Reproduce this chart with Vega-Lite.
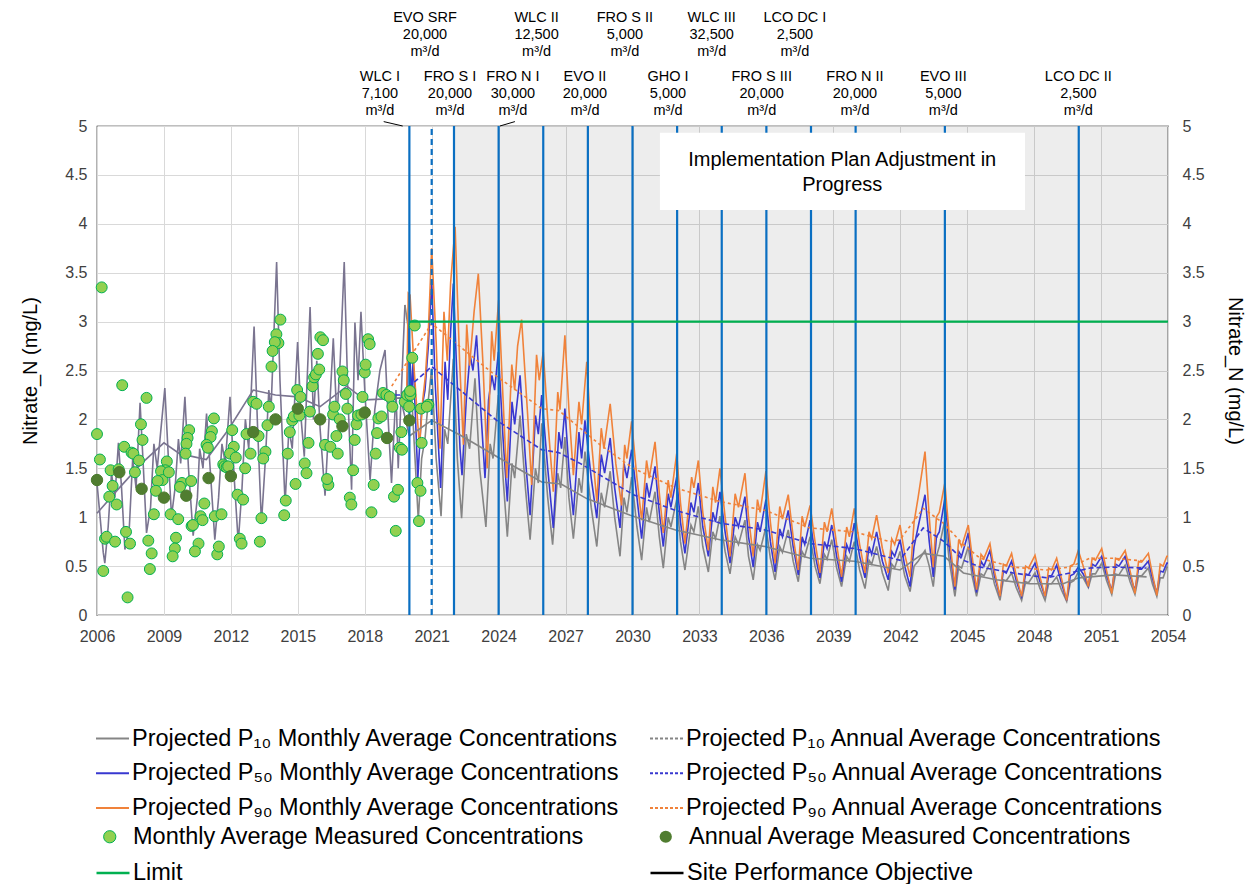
{
"$schema": "https://vega.github.io/schema/vega-lite/v6.json",
"width": 1071, "height": 489,
"autosize": {"type": "none"},
"padding": {"left": 97, "top": 126, "right": 89, "bottom": 269},
"background": "white",
"config": {"font": "Liberation Sans", "view": {"stroke": "#000000", "strokeWidth": 1.2},
  "legend": {"orient": "none", "title": null, "labelFontSize": 23.5, "labelColor": "#000000", "labelLimit": 0, "direction": "vertical", "rowPadding": 5.75}},
"data": {"values": [{}]},
"datasets": {
"hist": [{"t":2006.0,"v":1.35},{"t":2006.1,"v":1.1},{"t":2006.28,"v":0.64},{"t":2006.35,"v":0.53},{"t":2006.5,"v":0.9},{"t":2006.65,"v":1.45},{"t":2006.8,"v":1.2},{"t":2006.96,"v":1.76},{"t":2007.1,"v":1.3},{"t":2007.25,"v":0.67},{"t":2007.45,"v":0.9},{"t":2007.6,"v":1.6},{"t":2007.75,"v":1.3},{"t":2007.93,"v":2.17},{"t":2008.08,"v":1.5},{"t":2008.22,"v":0.84},{"t":2008.4,"v":1.1},{"t":2008.55,"v":1.75},{"t":2008.7,"v":1.5},{"t":2009.04,"v":2.32},{"t":2009.2,"v":1.6},{"t":2009.34,"v":1.01},{"t":2009.5,"v":1.3},{"t":2009.65,"v":1.8},{"t":2009.75,"v":1.55},{"t":2009.94,"v":2.23},{"t":2010.1,"v":1.5},{"t":2010.31,"v":0.81},{"t":2010.5,"v":1.2},{"t":2010.6,"v":1.7},{"t":2010.75,"v":1.5},{"t":2010.91,"v":2.06},{"t":2011.1,"v":1.4},{"t":2011.28,"v":0.77},{"t":2011.45,"v":1.2},{"t":2011.6,"v":1.75},{"t":2011.75,"v":1.55},{"t":2011.96,"v":2.23},{"t":2012.15,"v":1.4},{"t":2012.33,"v":0.74},{"t":2012.5,"v":1.3},{"t":2012.65,"v":2.0},{"t":2012.8,"v":1.7},{"t":2013.04,"v":2.95},{"t":2013.2,"v":1.9},{"t":2013.37,"v":0.94},{"t":2013.55,"v":1.6},{"t":2013.7,"v":2.3},{"t":2013.8,"v":2.1},{"t":2014.05,"v":3.61},{"t":2014.2,"v":2.4},{"t":2014.43,"v":1.14},{"t":2014.6,"v":1.9},{"t":2014.75,"v":1.7},{"t":2014.99,"v":2.79},{"t":2015.15,"v":2.0},{"t":2015.29,"v":1.62},{"t":2015.4,"v":2.3},{"t":2015.55,"v":3.15},{"t":2015.7,"v":2.0},{"t":2015.85,"v":2.6},{"t":2016.0,"v":1.9},{"t":2016.22,"v":1.22},{"t":2016.4,"v":2.0},{"t":2016.59,"v":2.83},{"t":2016.75,"v":2.0},{"t":2016.9,"v":2.6},{"t":2017.08,"v":3.61},{"t":2017.25,"v":2.2},{"t":2017.41,"v":1.28},{"t":2017.56,"v":2.99},{"t":2017.7,"v":2.4},{"t":2017.83,"v":3.1},{"t":2018.0,"v":2.3},{"t":2018.24,"v":1.38},{"t":2018.45,"v":2.1},{"t":2018.68,"v":2.5},{"t":2018.91,"v":2.71},{"t":2019.05,"v":2.0},{"t":2019.2,"v":1.35},{"t":2019.4,"v":2.3},{"t":2019.5,"v":1.5},{"t":2019.8,"v":3.17}],
"histann": [{"t":2006.0,"v":1.04},{"t":2007.0,"v":1.3},{"t":2008.0,"v":1.55},{"t":2009.0,"v":1.76},{"t":2009.7,"v":1.65},{"t":2010.9,"v":1.59},{"t":2011.9,"v":1.9},{"t":2013.0,"v":2.3},{"t":2014.0,"v":2.25},{"t":2015.0,"v":2.23},{"t":2016.0,"v":2.13},{"t":2017.2,"v":2.34},{"t":2018.0,"v":2.2},{"t":2019.0,"v":2.21},{"t":2019.6,"v":2.22},{"t":2020.0,"v":1.83}],
"p10m": [{"t":2019.8,"v":3.17},{"t":2019.97,"v":2.9},{"t":2020.15,"v":2.04},{"t":2020.4,"v":0.97},{"t":2020.55,"v":1.6},{"t":2020.7,"v":1.8},{"t":2020.85,"v":2.2},{"t":2021.0,"v":2.52},{"t":2021.2,"v":1.6},{"t":2021.42,"v":1.01},{"t":2021.58,"v":1.9},{"t":2021.72,"v":1.75},{"t":2021.97,"v":2.62},{"t":2022.15,"v":1.6},{"t":2022.34,"v":0.99},{"t":2022.55,"v":1.85},{"t":2022.7,"v":1.7},{"t":2022.94,"v":2.42},{"t":2023.15,"v":1.5},{"t":2023.43,"v":0.9},{"t":2023.62,"v":1.75},{"t":2023.75,"v":1.6},{"t":2023.99,"v":2.25},{"t":2024.2,"v":1.4},{"t":2024.39,"v":0.8},{"t":2024.6,"v":1.55},{"t":2024.72,"v":1.4},{"t":2024.96,"v":2.04},{"t":2025.2,"v":1.3},{"t":2025.41,"v":0.77},{"t":2025.65,"v":1.5},{"t":2025.78,"v":1.35},{"t":2025.93,"v":1.96},{"t":2026.2,"v":1.2},{"t":2026.42,"v":0.72},{"t":2026.65,"v":1.45},{"t":2026.78,"v":1.3},{"t":2026.97,"v":1.82},{"t":2027.15,"v":1.2},{"t":2027.35,"v":0.78},{"t":2027.6,"v":1.4},{"t":2027.72,"v":1.25},{"t":2027.87,"v":1.67},{"t":2028.15,"v":1.1},{"t":2028.4,"v":0.7},{"t":2028.6,"v":1.25},{"t":2028.75,"v":1.1},{"t":2029.0,"v":1.47},{"t":2029.2,"v":1.0},{"t":2029.44,"v":0.6},{"t":2029.62,"v":1.2},{"t":2029.75,"v":1.05},{"t":2029.96,"v":1.41},{"t":2030.2,"v":0.9},{"t":2030.41,"v":0.56},{"t":2030.63,"v":1.1},{"t":2030.75,"v":0.95},{"t":2031.01,"v":1.26},{"t":2031.2,"v":0.8},{"t":2031.38,"v":0.48},{"t":2031.6,"v":1.0},{"t":2031.72,"v":0.9},{"t":2031.98,"v":1.18},{"t":2032.15,"v":0.75},{"t":2032.35,"v":0.46},{"t":2032.62,"v":0.92},{"t":2032.75,"v":0.85},{"t":2032.95,"v":1.11},{"t":2033.15,"v":0.7},{"t":2033.4,"v":0.44},{"t":2033.6,"v":0.85},{"t":2033.72,"v":0.78},{"t":2033.92,"v":1.01},{"t":2034.15,"v":0.65},{"t":2034.37,"v":0.42},{"t":2034.6,"v":0.8},{"t":2034.75,"v":0.72},{"t":2035.04,"v":0.97},{"t":2035.2,"v":0.6},{"t":2035.41,"v":0.36},{"t":2035.6,"v":0.72},{"t":2035.72,"v":0.66},{"t":2035.98,"v":0.9},{"t":2036.18,"v":0.58},{"t":2036.39,"v":0.36},{"t":2036.6,"v":0.7},{"t":2036.72,"v":0.64},{"t":2036.98,"v":0.87},{"t":2037.2,"v":0.55},{"t":2037.43,"v":0.34},{"t":2037.6,"v":0.65},{"t":2037.72,"v":0.6},{"t":2037.96,"v":0.8},{"t":2038.18,"v":0.5},{"t":2038.4,"v":0.32},{"t":2038.6,"v":0.62},{"t":2038.72,"v":0.57},{"t":2038.93,"v":0.77},{"t":2039.15,"v":0.48},{"t":2039.37,"v":0.29},{"t":2039.6,"v":0.6},{"t":2039.72,"v":0.55},{"t":2039.94,"v":0.75},{"t":2040.18,"v":0.46},{"t":2040.42,"v":0.27},{"t":2040.6,"v":0.56},{"t":2040.72,"v":0.52},{"t":2040.94,"v":0.7},{"t":2041.2,"v":0.43},{"t":2041.46,"v":0.25},{"t":2041.62,"v":0.52},{"t":2041.75,"v":0.48},{"t":2041.99,"v":0.65},{"t":2042.2,"v":0.4},{"t":2042.44,"v":0.24},{"t":2042.62,"v":0.5},{"t":2042.8,"v":0.55},{"t":2043.11,"v":0.66},{"t":2043.3,"v":0.5},{"t":2043.48,"v":0.29},{"t":2043.62,"v":0.6},{"t":2043.75,"v":0.7},{"t":2044.0,"v":0.97},{"t":2044.2,"v":0.55},{"t":2044.45,"v":0.19},{"t":2044.62,"v":0.5},{"t":2044.75,"v":0.48},{"t":2045.05,"v":0.7},{"t":2045.22,"v":0.4},{"t":2045.42,"v":0.19},{"t":2045.62,"v":0.42},{"t":2045.75,"v":0.4},{"t":2046.02,"v":0.53},{"t":2046.22,"v":0.32},{"t":2046.47,"v":0.15},{"t":2046.62,"v":0.36},{"t":2046.75,"v":0.35},{"t":2046.99,"v":0.43},{"t":2047.2,"v":0.28},{"t":2047.44,"v":0.15},{"t":2047.62,"v":0.34},{"t":2047.75,"v":0.33},{"t":2048.04,"v":0.43},{"t":2048.25,"v":0.28},{"t":2048.49,"v":0.15},{"t":2048.65,"v":0.32},{"t":2048.78,"v":0.32},{"t":2049.01,"v":0.39},{"t":2049.22,"v":0.26},{"t":2049.46,"v":0.14},{"t":2049.62,"v":0.33},{"t":2049.78,"v":0.35},{"t":2049.98,"v":0.44},{"t":2050.2,"v":0.38},{"t":2050.43,"v":0.28},{"t":2050.6,"v":0.42},{"t":2050.75,"v":0.42},{"t":2051.03,"v":0.53},{"t":2051.25,"v":0.35},{"t":2051.48,"v":0.21},{"t":2051.65,"v":0.42},{"t":2051.8,"v":0.41},{"t":2052.08,"v":0.51},{"t":2052.3,"v":0.34},{"t":2052.52,"v":0.21},{"t":2052.68,"v":0.4},{"t":2052.82,"v":0.4},{"t":2053.12,"v":0.48},{"t":2053.3,"v":0.32},{"t":2053.5,"v":0.19},{"t":2053.65,"v":0.38},{"t":2053.78,"v":0.38},{"t":2053.95,"v":0.49},{"t":2054.0,"v":0.49}],
"p50m": [{"t":2019.9,"v":2.3},{"t":2019.97,"v":2.93},{"t":2020.1,"v":2.2},{"t":2020.17,"v":2.62},{"t":2020.38,"v":1.4},{"t":2020.55,"v":2.1},{"t":2020.7,"v":2.3},{"t":2020.85,"v":2.75},{"t":2021.0,"v":3.43},{"t":2021.15,"v":2.4},{"t":2021.4,"v":1.3},{"t":2021.6,"v":2.59},{"t":2021.72,"v":2.2},{"t":2021.85,"v":2.9},{"t":2021.97,"v":3.39},{"t":2022.12,"v":2.5},{"t":2022.27,"v":1.7},{"t":2022.36,"v":1.43},{"t":2022.55,"v":2.2},{"t":2022.72,"v":2.66},{"t":2022.85,"v":2.5},{"t":2023.01,"v":2.86},{"t":2023.2,"v":2.1},{"t":2023.39,"v":1.4},{"t":2023.55,"v":2.2},{"t":2023.7,"v":2.45},{"t":2023.82,"v":2.3},{"t":2023.99,"v":2.69},{"t":2024.2,"v":1.8},{"t":2024.39,"v":1.16},{"t":2024.6,"v":2.18},{"t":2024.72,"v":1.95},{"t":2024.96,"v":2.45},{"t":2025.2,"v":1.6},{"t":2025.41,"v":1.02},{"t":2025.65,"v":2.04},{"t":2025.78,"v":1.85},{"t":2025.93,"v":2.25},{"t":2026.2,"v":1.5},{"t":2026.45,"v":0.89},{"t":2026.7,"v":1.87},{"t":2026.82,"v":1.7},{"t":2026.97,"v":2.11},{"t":2027.15,"v":1.5},{"t":2027.35,"v":1.02},{"t":2027.6,"v":1.87},{"t":2027.72,"v":1.6},{"t":2027.87,"v":1.99},{"t":2028.15,"v":1.4},{"t":2028.4,"v":0.99},{"t":2028.6,"v":1.64},{"t":2028.75,"v":1.45},{"t":2029.0,"v":1.81},{"t":2029.2,"v":1.3},{"t":2029.44,"v":0.89},{"t":2029.62,"v":1.55},{"t":2029.75,"v":1.4},{"t":2029.96,"v":1.69},{"t":2030.2,"v":1.2},{"t":2030.41,"v":0.78},{"t":2030.63,"v":1.35},{"t":2030.75,"v":1.2},{"t":2031.01,"v":1.52},{"t":2031.2,"v":1.05},{"t":2031.38,"v":0.7},{"t":2031.6,"v":1.24},{"t":2031.72,"v":1.1},{"t":2031.98,"v":1.41},{"t":2032.15,"v":0.95},{"t":2032.35,"v":0.63},{"t":2032.62,"v":1.15},{"t":2032.75,"v":1.05},{"t":2032.95,"v":1.35},{"t":2033.15,"v":0.9},{"t":2033.4,"v":0.6},{"t":2033.6,"v":1.05},{"t":2033.72,"v":0.95},{"t":2033.92,"v":1.26},{"t":2034.15,"v":0.85},{"t":2034.37,"v":0.53},{"t":2034.6,"v":1.0},{"t":2034.75,"v":0.9},{"t":2035.04,"v":1.21},{"t":2035.2,"v":0.8},{"t":2035.41,"v":0.49},{"t":2035.6,"v":0.95},{"t":2035.72,"v":0.85},{"t":2035.98,"v":1.18},{"t":2036.18,"v":0.75},{"t":2036.39,"v":0.44},{"t":2036.6,"v":0.88},{"t":2036.72,"v":0.8},{"t":2036.98,"v":1.07},{"t":2037.2,"v":0.7},{"t":2037.43,"v":0.41},{"t":2037.6,"v":0.8},{"t":2037.72,"v":0.72},{"t":2037.96,"v":0.97},{"t":2038.18,"v":0.62},{"t":2038.4,"v":0.38},{"t":2038.6,"v":0.75},{"t":2038.72,"v":0.68},{"t":2038.93,"v":0.92},{"t":2039.15,"v":0.6},{"t":2039.37,"v":0.34},{"t":2039.6,"v":0.72},{"t":2039.72,"v":0.65},{"t":2039.94,"v":0.94},{"t":2040.18,"v":0.6},{"t":2040.42,"v":0.38},{"t":2040.6,"v":0.7},{"t":2040.72,"v":0.62},{"t":2040.94,"v":0.85},{"t":2041.2,"v":0.55},{"t":2041.46,"v":0.36},{"t":2041.62,"v":0.65},{"t":2041.75,"v":0.6},{"t":2041.99,"v":0.77},{"t":2042.2,"v":0.5},{"t":2042.44,"v":0.29},{"t":2042.62,"v":0.7},{"t":2042.8,"v":0.9},{"t":2043.11,"v":1.23},{"t":2043.3,"v":0.75},{"t":2043.48,"v":0.39},{"t":2043.62,"v":0.8},{"t":2043.75,"v":0.85},{"t":2044.0,"v":1.19},{"t":2044.2,"v":0.7},{"t":2044.45,"v":0.26},{"t":2044.62,"v":0.65},{"t":2044.75,"v":0.6},{"t":2045.05,"v":0.84},{"t":2045.22,"v":0.5},{"t":2045.42,"v":0.23},{"t":2045.62,"v":0.55},{"t":2045.75,"v":0.5},{"t":2046.02,"v":0.66},{"t":2046.22,"v":0.4},{"t":2046.47,"v":0.19},{"t":2046.62,"v":0.45},{"t":2046.75,"v":0.43},{"t":2046.99,"v":0.55},{"t":2047.2,"v":0.35},{"t":2047.44,"v":0.19},{"t":2047.62,"v":0.42},{"t":2047.75,"v":0.41},{"t":2048.04,"v":0.53},{"t":2048.25,"v":0.35},{"t":2048.49,"v":0.19},{"t":2048.65,"v":0.4},{"t":2048.78,"v":0.4},{"t":2049.01,"v":0.51},{"t":2049.22,"v":0.33},{"t":2049.46,"v":0.15},{"t":2049.62,"v":0.4},{"t":2049.78,"v":0.42},{"t":2049.98,"v":0.49},{"t":2050.2,"v":0.42},{"t":2050.43,"v":0.3},{"t":2050.6,"v":0.52},{"t":2050.75,"v":0.5},{"t":2051.03,"v":0.6},{"t":2051.25,"v":0.4},{"t":2051.48,"v":0.25},{"t":2051.65,"v":0.52},{"t":2051.8,"v":0.5},{"t":2052.08,"v":0.6},{"t":2052.3,"v":0.4},{"t":2052.52,"v":0.25},{"t":2052.68,"v":0.48},{"t":2052.82,"v":0.47},{"t":2053.12,"v":0.55},{"t":2053.3,"v":0.38},{"t":2053.5,"v":0.22},{"t":2053.65,"v":0.45},{"t":2053.78,"v":0.44},{"t":2053.95,"v":0.53},{"t":2054.0,"v":0.53}],
"p90m": [{"t":2019.88,"v":2.25},{"t":2019.95,"v":3.29},{"t":2020.03,"v":3.27},{"t":2020.2,"v":2.56},{"t":2020.45,"v":1.71},{"t":2020.6,"v":2.2},{"t":2020.72,"v":2.45},{"t":2020.85,"v":2.9},{"t":2021.0,"v":3.75},{"t":2021.2,"v":2.79},{"t":2021.37,"v":1.7},{"t":2021.55,"v":3.1},{"t":2021.7,"v":2.6},{"t":2021.85,"v":3.4},{"t":2022.05,"v":3.97},{"t":2022.25,"v":2.6},{"t":2022.42,"v":1.74},{"t":2022.57,"v":2.97},{"t":2022.7,"v":2.55},{"t":2022.9,"v":3.1},{"t":2023.09,"v":3.49},{"t":2023.3,"v":2.56},{"t":2023.49,"v":1.5},{"t":2023.69,"v":2.9},{"t":2023.8,"v":2.6},{"t":2024.0,"v":3.22},{"t":2024.18,"v":2.3},{"t":2024.36,"v":1.4},{"t":2024.59,"v":2.56},{"t":2024.72,"v":2.3},{"t":2024.85,"v":2.75},{"t":2025.03,"v":3.02},{"t":2025.3,"v":2.05},{"t":2025.48,"v":1.33},{"t":2025.7,"v":2.66},{"t":2025.82,"v":2.4},{"t":2026.0,"v":2.69},{"t":2026.2,"v":2.0},{"t":2026.45,"v":1.26},{"t":2026.65,"v":2.28},{"t":2026.75,"v":2.1},{"t":2026.97,"v":2.86},{"t":2027.15,"v":2.1},{"t":2027.35,"v":1.43},{"t":2027.6,"v":2.18},{"t":2027.72,"v":1.95},{"t":2027.95,"v":2.59},{"t":2028.15,"v":1.8},{"t":2028.4,"v":1.16},{"t":2028.6,"v":1.91},{"t":2028.72,"v":1.7},{"t":2029.0,"v":2.16},{"t":2029.25,"v":1.55},{"t":2029.51,"v":1.12},{"t":2029.65,"v":1.74},{"t":2029.75,"v":1.6},{"t":2029.96,"v":1.98},{"t":2030.2,"v":1.4},{"t":2030.41,"v":0.97},{"t":2030.63,"v":1.58},{"t":2030.75,"v":1.4},{"t":2031.01,"v":1.77},{"t":2031.2,"v":1.25},{"t":2031.38,"v":0.84},{"t":2031.6,"v":1.38},{"t":2031.72,"v":1.2},{"t":2031.98,"v":1.65},{"t":2032.15,"v":1.15},{"t":2032.35,"v":0.73},{"t":2032.65,"v":1.41},{"t":2032.75,"v":1.3},{"t":2032.95,"v":1.58},{"t":2033.15,"v":1.05},{"t":2033.4,"v":0.66},{"t":2033.6,"v":1.31},{"t":2033.72,"v":1.15},{"t":2033.92,"v":1.5},{"t":2034.15,"v":1.0},{"t":2034.37,"v":0.6},{"t":2034.6,"v":1.24},{"t":2034.75,"v":1.1},{"t":2035.04,"v":1.45},{"t":2035.2,"v":1.0},{"t":2035.41,"v":0.6},{"t":2035.6,"v":1.18},{"t":2035.72,"v":1.05},{"t":2035.98,"v":1.47},{"t":2036.18,"v":0.95},{"t":2036.39,"v":0.53},{"t":2036.6,"v":1.11},{"t":2036.72,"v":0.98},{"t":2036.98,"v":1.23},{"t":2037.2,"v":0.8},{"t":2037.43,"v":0.46},{"t":2037.6,"v":1.01},{"t":2037.72,"v":0.9},{"t":2037.96,"v":1.12},{"t":2038.18,"v":0.75},{"t":2038.4,"v":0.43},{"t":2038.6,"v":0.95},{"t":2038.72,"v":0.85},{"t":2038.93,"v":1.09},{"t":2039.15,"v":0.72},{"t":2039.37,"v":0.39},{"t":2039.6,"v":0.9},{"t":2039.72,"v":0.8},{"t":2039.94,"v":1.09},{"t":2040.18,"v":0.72},{"t":2040.42,"v":0.43},{"t":2040.6,"v":0.85},{"t":2040.72,"v":0.78},{"t":2040.94,"v":1.02},{"t":2041.2,"v":0.68},{"t":2041.46,"v":0.43},{"t":2041.62,"v":0.78},{"t":2041.75,"v":0.72},{"t":2041.99,"v":0.92},{"t":2042.2,"v":0.62},{"t":2042.44,"v":0.39},{"t":2042.62,"v":0.95},{"t":2042.8,"v":1.2},{"t":2043.11,"v":1.67},{"t":2043.3,"v":1.0},{"t":2043.48,"v":0.49},{"t":2043.62,"v":1.0},{"t":2043.75,"v":1.05},{"t":2044.0,"v":1.35},{"t":2044.2,"v":0.8},{"t":2044.45,"v":0.29},{"t":2044.62,"v":0.77},{"t":2044.75,"v":0.7},{"t":2045.05,"v":0.92},{"t":2045.22,"v":0.6},{"t":2045.42,"v":0.26},{"t":2045.62,"v":0.62},{"t":2045.75,"v":0.58},{"t":2046.02,"v":0.73},{"t":2046.22,"v":0.45},{"t":2046.47,"v":0.19},{"t":2046.62,"v":0.52},{"t":2046.75,"v":0.5},{"t":2046.99,"v":0.63},{"t":2047.2,"v":0.4},{"t":2047.44,"v":0.19},{"t":2047.62,"v":0.5},{"t":2047.75,"v":0.48},{"t":2048.04,"v":0.61},{"t":2048.25,"v":0.4},{"t":2048.49,"v":0.19},{"t":2048.65,"v":0.48},{"t":2048.78,"v":0.46},{"t":2049.01,"v":0.58},{"t":2049.22,"v":0.38},{"t":2049.46,"v":0.15},{"t":2049.62,"v":0.5},{"t":2049.78,"v":0.52},{"t":2049.98,"v":0.66},{"t":2050.2,"v":0.5},{"t":2050.43,"v":0.29},{"t":2050.6,"v":0.58},{"t":2050.75,"v":0.56},{"t":2051.03,"v":0.68},{"t":2051.25,"v":0.45},{"t":2051.48,"v":0.22},{"t":2051.65,"v":0.58},{"t":2051.8,"v":0.56},{"t":2052.08,"v":0.66},{"t":2052.3,"v":0.45},{"t":2052.52,"v":0.22},{"t":2052.68,"v":0.55},{"t":2052.82,"v":0.54},{"t":2053.12,"v":0.63},{"t":2053.3,"v":0.42},{"t":2053.5,"v":0.2},{"t":2053.65,"v":0.52},{"t":2053.78,"v":0.5},{"t":2053.95,"v":0.6},{"t":2054.0,"v":0.6}],
"p10a": [{"t":2020.0,"v":1.83},{"t":2021.0,"v":1.99},{"t":2022.27,"v":1.84},{"t":2023.91,"v":1.62},{"t":2025.93,"v":1.36},{"t":2026.8,"v":1.34},{"t":2027.95,"v":1.19},{"t":2029.9,"v":1.02},{"t":2031.93,"v":0.87},{"t":2033.92,"v":0.77},{"t":2035.94,"v":0.7},{"t":2037.96,"v":0.58},{"t":2039.94,"v":0.55},{"t":2041.99,"v":0.46},{"t":2043.03,"v":0.63},{"t":2043.97,"v":0.6},{"t":2044.83,"v":0.43},{"t":2046.3,"v":0.36},{"t":2047.8,"v":0.32},{"t":2049.3,"v":0.32},{"t":2050.0,"v":0.38},{"t":2051.55,"v":0.41},{"t":2053.04,"v":0.39}],
"p50a": [{"t":2019.36,"v":2.25},{"t":2019.58,"v":2.25},{"t":2021.0,"v":2.54},{"t":2023.91,"v":1.99},{"t":2025.93,"v":1.69},{"t":2026.7,"v":1.66},{"t":2027.65,"v":1.55},{"t":2030.04,"v":1.23},{"t":2031.93,"v":1.07},{"t":2033.92,"v":0.94},{"t":2035.94,"v":0.87},{"t":2037.96,"v":0.73},{"t":2039.94,"v":0.68},{"t":2041.99,"v":0.56},{"t":2043.03,"v":0.89},{"t":2043.97,"v":0.75},{"t":2044.83,"v":0.56},{"t":2045.58,"v":0.49},{"t":2047.07,"v":0.43},{"t":2048.56,"v":0.38},{"t":2049.6,"v":0.43},{"t":2050.5,"v":0.48},{"t":2051.55,"v":0.49},{"t":2053.04,"v":0.48}],
"p90a": [{"t":2019.21,"v":2.34},{"t":2021.0,"v":2.98},{"t":2023.91,"v":2.44},{"t":2025.93,"v":2.11},{"t":2026.7,"v":2.09},{"t":2027.65,"v":1.91},{"t":2028.55,"v":1.74},{"t":2030.04,"v":1.5},{"t":2031.93,"v":1.3},{"t":2033.92,"v":1.16},{"t":2035.94,"v":1.07},{"t":2037.96,"v":0.89},{"t":2039.94,"v":0.85},{"t":2041.54,"v":0.75},{"t":2041.99,"v":0.77},{"t":2043.03,"v":1.09},{"t":2043.93,"v":0.94},{"t":2044.83,"v":0.72},{"t":2045.58,"v":0.58},{"t":2047.07,"v":0.49},{"t":2048.56,"v":0.46},{"t":2049.6,"v":0.49},{"t":2050.5,"v":0.58},{"t":2051.55,"v":0.58},{"t":2053.04,"v":0.55}],
"meas": [{"t":2006.21,"v":3.35},{"t":2006.0,"v":1.85},{"t":2006.13,"v":1.59},{"t":2007.13,"v":2.35},{"t":2008.22,"v":2.22},{"t":2007.97,"v":1.95},{"t":2008.04,"v":1.79},{"t":2007.22,"v":1.72},{"t":2007.55,"v":1.66},{"t":2007.63,"v":1.65},{"t":2007.88,"v":1.58},{"t":2006.61,"v":1.48},{"t":2006.97,"v":1.49},{"t":2007.7,"v":1.46},{"t":2006.7,"v":1.32},{"t":2006.55,"v":1.21},{"t":2006.88,"v":1.13},{"t":2006.36,"v":0.78},{"t":2006.43,"v":0.8},{"t":2006.81,"v":0.75},{"t":2007.3,"v":0.85},{"t":2007.48,"v":0.73},{"t":2006.28,"v":0.45},{"t":2007.37,"v":0.18},{"t":2008.55,"v":1.03},{"t":2008.3,"v":0.76},{"t":2008.45,"v":0.63},{"t":2008.37,"v":0.47},{"t":2009.13,"v":1.57},{"t":2009.06,"v":1.48},{"t":2008.87,"v":1.47},{"t":2008.94,"v":1.38},{"t":2008.72,"v":1.37},{"t":2009.22,"v":1.46},{"t":2008.64,"v":1.27},{"t":2009.3,"v":1.03},{"t":2009.64,"v":0.98},{"t":2009.54,"v":0.79},{"t":2009.49,"v":0.68},{"t":2009.39,"v":0.6},{"t":2010.13,"v":1.89},{"t":2010.06,"v":1.81},{"t":2010.01,"v":1.75},{"t":2009.97,"v":1.65},{"t":2009.81,"v":1.35},{"t":2009.72,"v":1.31},{"t":2010.22,"v":1.37},{"t":2010.24,"v":0.91},{"t":2010.3,"v":0.92},{"t":2010.64,"v":1.01},{"t":2010.73,"v":0.97},{"t":2010.81,"v":1.14},{"t":2010.55,"v":0.73},{"t":2010.39,"v":0.65},{"t":2011.39,"v":0.62},{"t":2011.46,"v":0.7},{"t":2011.28,"v":1.01},{"t":2011.58,"v":1.03},{"t":2011.24,"v":2.01},{"t":2011.15,"v":1.88},{"t":2011.09,"v":1.82},{"t":2010.91,"v":1.74},{"t":2010.97,"v":1.71},{"t":2011.66,"v":1.54},{"t":2011.72,"v":1.52},{"t":2011.81,"v":1.51},{"t":2011.88,"v":1.52},{"t":2012.06,"v":1.89},{"t":2012.13,"v":1.72},{"t":2011.96,"v":1.65},{"t":2012.22,"v":1.61},{"t":2012.64,"v":1.5},{"t":2012.3,"v":1.23},{"t":2012.55,"v":1.18},{"t":2012.4,"v":0.78},{"t":2012.48,"v":0.73},{"t":2013.3,"v":0.75},{"t":2013.37,"v":0.99},{"t":2013.0,"v":2.18},{"t":2013.15,"v":2.16},{"t":2012.7,"v":1.85},{"t":2013.24,"v":1.83},{"t":2013.7,"v":2.13},{"t":2013.64,"v":1.94},{"t":2013.55,"v":1.67},{"t":2013.45,"v":1.6},{"t":2012.88,"v":1.65},{"t":2014.22,"v":3.02},{"t":2014.04,"v":2.87},{"t":2014.13,"v":2.78},{"t":2013.97,"v":2.79},{"t":2013.87,"v":2.7},{"t":2013.82,"v":2.54},{"t":2014.64,"v":1.87},{"t":2014.39,"v":1.02},{"t":2014.46,"v":1.17},{"t":2014.55,"v":1.65},{"t":2014.75,"v":1.99},{"t":2014.82,"v":2.03},{"t":2014.97,"v":2.3},{"t":2015.12,"v":2.23},{"t":2015.07,"v":2.04},{"t":2014.9,"v":1.34},{"t":2015.31,"v":1.55},{"t":2015.39,"v":1.45},{"t":2015.48,"v":1.76},{"t":2015.54,"v":2.08},{"t":2015.66,"v":2.34},{"t":2015.73,"v":2.43},{"t":2015.81,"v":2.46},{"t":2015.96,"v":2.51},{"t":2015.9,"v":2.67},{"t":2016.01,"v":2.84},{"t":2016.13,"v":2.81},{"t":2016.22,"v":1.74},{"t":2016.37,"v":1.33},{"t":2016.31,"v":1.39},{"t":2016.46,"v":1.72},{"t":2016.58,"v":2.05},{"t":2016.64,"v":2.13},{"t":2016.79,"v":1.65},{"t":2016.73,"v":1.83},{"t":2016.88,"v":2.0},{"t":2017.0,"v":2.49},{"t":2017.06,"v":2.4},{"t":2017.15,"v":2.26},{"t":2017.22,"v":2.11},{"t":2017.33,"v":1.2},{"t":2017.4,"v":1.13},{"t":2017.48,"v":1.48},{"t":2017.55,"v":1.79},{"t":2017.63,"v":1.95},{"t":2017.7,"v":2.04},{"t":2017.85,"v":2.05},{"t":2017.9,"v":2.23},{"t":2018.0,"v":2.48},{"t":2018.04,"v":2.56},{"t":2018.15,"v":2.82},{"t":2018.22,"v":2.77},{"t":2018.3,"v":1.05},{"t":2018.4,"v":1.33},{"t":2018.49,"v":1.65},{"t":2018.55,"v":1.86},{"t":2018.61,"v":2.01},{"t":2018.75,"v":2.03},{"t":2018.82,"v":2.27},{"t":2018.97,"v":2.25},{"t":2019.12,"v":2.23},{"t":2019.24,"v":2.13},{"t":2019.31,"v":1.21},{"t":2019.39,"v":0.86},{"t":2019.49,"v":1.28},{"t":2019.57,"v":1.71},{"t":2019.67,"v":1.69},{"t":2019.64,"v":1.87},{"t":2019.79,"v":2.18},{"t":2019.9,"v":2.25},{"t":2019.99,"v":2.13},{"t":2020.04,"v":2.25},{"t":2020.13,"v":2.63},{"t":2020.24,"v":2.96},{"t":2020.36,"v":1.35},{"t":2020.03,"v":2.29},{"t":2020.55,"v":1.76},{"t":2020.52,"v":2.11},{"t":2020.85,"v":2.15},{"t":2020.78,"v":2.13},{"t":2020.5,"v":1.27},{"t":2020.43,"v":0.96}],
"measann": [{"t":2006.0,"v":1.38},{"t":2007.0,"v":1.46},{"t":2008.0,"v":1.29},{"t":2009.0,"v":1.2},{"t":2010.0,"v":1.22},{"t":2011.0,"v":1.4},{"t":2012.0,"v":1.42},{"t":2013.0,"v":1.87},{"t":2014.0,"v":2.0},{"t":2015.0,"v":2.11},{"t":2016.0,"v":2.0},{"t":2017.0,"v":1.93},{"t":2018.0,"v":2.07},{"t":2019.0,"v":1.81},{"t":2020.0,"v":1.99}],
"impl": [{"yr":2020},{"yr":2022},{"yr":2024},{"yr":2026},{"yr":2028},{"yr":2030},{"yr":2032},{"yr":2034},{"yr":2036},{"yr":2038},{"yr":2040},{"yr":2044},{"yr":2050}],
"labels": [
{"x":2020.7,"tier":"upper","label":"EVO SRF\n20,000\nm³/d"},
{"x":2025.7,"tier":"upper","label":"WLC II\n12,500\nm³/d"},
{"x":2029.66,"tier":"upper","label":"FRO S II\n5,000\nm³/d"},
{"x":2033.55,"tier":"upper","label":"WLC III\n32,500\nm³/d"},
{"x":2037.28,"tier":"upper","label":"LCO DC I\n2,500\nm³/d"},
{"x":2018.68,"tier":"lower","label":"WLC I\n7,100\nm³/d"},
{"x":2021.82,"tier":"lower","label":"FRO S I\n20,000\nm³/d"},
{"x":2024.64,"tier":"lower","label":"FRO N I\n30,000\nm³/d"},
{"x":2027.87,"tier":"lower","label":"EVO II\n20,000\nm³/d"},
{"x":2031.59,"tier":"lower","label":"GHO I\n5,000\nm³/d"},
{"x":2035.79,"tier":"lower","label":"FRO S III\n20,000\nm³/d"},
{"x":2039.97,"tier":"lower","label":"FRO N II\n20,000\nm³/d"},
{"x":2043.93,"tier":"lower","label":"EVO III\n5,000\nm³/d"},
{"x":2049.98,"tier":"lower","label":"LCO DC II\n2,500\nm³/d"}],
"leaders": [{"x":2018.85,"x2":2019.7,"y":5.045,"y2":5.0},{"x":2024.73,"x2":2024.06,"y":5.045,"y2":5.0}]
},
"layer": [
{"layer": [
{"mark": {"type": "rect", "fill": "#000000", "opacity": 0.07},
 "encoding": {
  "x": {"datum": 2022, "type": "quantitative", "scale": {"domain": [2006, 2054], "nice": false, "zero": false},
        "axis": {"values": [2006,2009,2012,2015,2018,2021,2024,2027,2030,2033,2036,2039,2042,2045,2048,2051,2054], "format": "d", "labelFontSize": 16, "labelColor": "#404040", "ticks": false, "domain": false, "grid": true, "gridColor": "#d9d9d9", "labelPadding": 13, "title": null, "labelOverlap": false, "labelFlush": false}},
  "x2": {"datum": 2054},
  "y": {"datum": 0, "type": "quantitative", "scale": {"domain": [0, 5], "nice": false, "zero": false},
        "axis": {"orient": "left", "values": [0,0.5,1,1.5,2,2.5,3,3.5,4,4.5,5], "format": "~g", "labelFontSize": 16, "labelColor": "#404040", "ticks": false, "domain": false, "grid": true, "gridColor": "#d9d9d9", "labelPadding": 10, "title": "Nitrate_N (mg/L)", "titleFontSize": 20, "titleFontWeight": "normal", "titleColor": "#000000", "titlePadding": 24}},
  "y2": {"datum": 5}}},
{"data": {"name": "hist"}, "mark": {"type": "line", "stroke": "#7a7490", "strokeWidth": 1.6},
 "encoding": {"x": {"field": "t", "type": "quantitative"}, "y": {"field": "v", "type": "quantitative"}}},
{"data": {"name": "histann"}, "mark": {"type": "line", "stroke": "#7a7490", "strokeWidth": 1.6},
 "encoding": {"x": {"field": "t", "type": "quantitative"}, "y": {"field": "v", "type": "quantitative"}}},
{"data": {"name": "p10m"}, "mark": {"type": "line", "strokeWidth": 1.6},
 "encoding": {"x": {"field": "t", "type": "quantitative"}, "y": {"field": "v", "type": "quantitative"},
  "color": {"datum": "Projected P₁₀ Monthly Average Concentrations", "type": "nominal",
   "scale": {"domain": ["Projected P₁₀ Monthly Average Concentrations", "Projected P₅₀ Monthly Average Concentrations", "Projected P₉₀ Monthly Average Concentrations"], "range": ["#858585", "#3838d0", "#f0823a"]},
   "legend": {"legendX": -2, "legendY": 595, "symbolType": "stroke", "symbolSize": 1089, "symbolStrokeWidth": 2, "labelOffset": 2}}}},
{"data": {"name": "p50m"}, "mark": {"type": "line", "strokeWidth": 1.6},
 "encoding": {"x": {"field": "t", "type": "quantitative"}, "y": {"field": "v", "type": "quantitative"},
  "color": {"datum": "Projected P₅₀ Monthly Average Concentrations", "type": "nominal"}}},
{"data": {"name": "p90m"}, "mark": {"type": "line", "strokeWidth": 1.6},
 "encoding": {"x": {"field": "t", "type": "quantitative"}, "y": {"field": "v", "type": "quantitative"},
  "color": {"datum": "Projected P₉₀ Monthly Average Concentrations", "type": "nominal"}}},
{"data": {"name": "p10a"}, "mark": {"type": "line", "strokeWidth": 1.6},
 "encoding": {"x": {"field": "t", "type": "quantitative"}, "y": {"field": "v", "type": "quantitative"},
  "stroke": {"datum": "Projected P₁₀ Annual Average Concentrations", "type": "nominal",
   "scale": {"domain": ["Projected P₁₀ Annual Average Concentrations", "Projected P₅₀ Annual Average Concentrations", "Projected P₉₀ Annual Average Concentrations"], "range": ["#858585", "#3838d0", "#f0823a"]},
   "legend": {"legendX": 552, "legendY": 595, "symbolType": "stroke", "symbolSize": 1089, "symbolStrokeWidth": 2, "symbolDash": [3, 2], "labelOffset": 2}}}},
{"data": {"name": "p50a"}, "mark": {"type": "line", "strokeWidth": 1.6, "strokeDash": [5, 3]},
 "encoding": {"x": {"field": "t", "type": "quantitative"}, "y": {"field": "v", "type": "quantitative"},
  "stroke": {"datum": "Projected P₅₀ Annual Average Concentrations", "type": "nominal"}}},
{"data": {"name": "p90a"}, "mark": {"type": "line", "strokeWidth": 1.6, "strokeDash": [3, 3]},
 "encoding": {"x": {"field": "t", "type": "quantitative"}, "y": {"field": "v", "type": "quantitative"},
  "stroke": {"datum": "Projected P₉₀ Annual Average Concentrations", "type": "nominal"}}},
{"data": {"name": "impl"}, "mark": {"type": "rule", "stroke": "#0a6fc2", "strokeWidth": 2.2},
 "encoding": {"x": {"field": "yr", "type": "quantitative"}, "y": {"datum": 0, "type": "quantitative"}, "y2": {"datum": 5}}},
{"mark": {"type": "rule", "stroke": "#0a6fc2", "strokeWidth": 2.2, "strokeDash": [6, 4]},
 "encoding": {"x": {"datum": 2021, "type": "quantitative"}, "y": {"datum": 0, "type": "quantitative"}, "y2": {"datum": 5}}},
{"data": {"name": "meas"}, "mark": {"type": "point", "shape": "circle", "filled": true, "size": 120, "stroke": "#00b050", "strokeWidth": 1, "opacity": 1},
 "encoding": {"x": {"field": "t", "type": "quantitative"}, "y": {"field": "v", "type": "quantitative"},
  "fill": {"datum": "Monthly Average Measured Concentrations", "type": "nominal",
   "scale": {"domain": ["Monthly Average Measured Concentrations"], "range": ["#92d050"]},
   "legend": {"legendX": 1, "legendY": 699, "symbolType": "circle", "symbolSize": 150, "symbolStrokeColor": "#00b050", "symbolStrokeWidth": 1, "labelOffset": 11.5}}}},
{"data": {"name": "measann"}, "mark": {"type": "point", "filled": true, "size": 130, "color": "#507d30", "stroke": "#4a7a2c", "strokeWidth": 1, "opacity": 1},
 "encoding": {"x": {"field": "t", "type": "quantitative"}, "y": {"field": "v", "type": "quantitative"},
  "shape": {"datum": "Annual Average Measured Concentrations", "type": "nominal",
   "scale": {"domain": ["Annual Average Measured Concentrations"], "range": ["circle"]},
   "legend": {"legendX": 557, "legendY": 699, "symbolSize": 150, "symbolFillColor": "#507d30", "symbolStrokeColor": "#4a7a2c", "symbolStrokeWidth": 1, "labelOffset": 11.5}}}},
{"mark": {"type": "rule", "stroke": "#000000", "opacity": 0},
 "encoding": {"x": {"datum": 2006, "type": "quantitative"}, "x2": {"datum": 2006}, "y": {"datum": 0, "type": "quantitative"}, "y2": {"datum": 0},
  "strokeWidth": {"datum": "Site Performance Objective", "type": "ordinal",
   "scale": {"domain": ["Site Performance Objective"], "range": [2.5, 2.5]},
   "legend": {"legendX": 552, "legendY": 729, "symbolType": "stroke", "symbolSize": 1089, "symbolStrokeColor": "#000000", "symbolOpacity": 1, "labelOffset": 2}}}},
{"mark": {"type": "rect", "fill": "#ffffff"},
 "encoding": {"x": {"datum": 2031.23, "type": "quantitative"}, "x2": {"datum": 2047.59}, "y": {"datum": 4.14, "type": "quantitative"}, "y2": {"datum": 4.93}}},
{"mark": {"type": "text", "fontSize": 20, "color": "#000000", "align": "center", "baseline": "middle", "lineHeight": 25},
 "encoding": {"x": {"datum": 2039.4, "type": "quantitative"}, "y": {"datum": 4.65, "type": "quantitative"},
  "text": {"value": ["Implementation Plan Adjustment in", "Progress"]}}},
{"data": {"name": "labels"}, "transform": [{"filter": "datum.tier == 'upper'"}],
 "mark": {"type": "text", "fontSize": 14.5, "color": "#000000", "align": "center", "baseline": "middle", "lineBreak": "\n", "lineHeight": 17},
 "encoding": {"x": {"field": "x", "type": "quantitative"}, "y": {"datum": 6.1, "type": "quantitative"}, "text": {"field": "label"}}},
{"data": {"name": "labels"}, "transform": [{"filter": "datum.tier == 'lower'"}],
 "mark": {"type": "text", "fontSize": 14.5, "color": "#000000", "align": "center", "baseline": "middle", "lineBreak": "\n", "lineHeight": 17},
 "encoding": {"x": {"field": "x", "type": "quantitative"}, "y": {"datum": 5.5, "type": "quantitative"}, "text": {"field": "label"}}},
{"data": {"name": "leaders"}, "mark": {"type": "rule", "stroke": "#000000", "strokeWidth": 1},
 "encoding": {"x": {"field": "x", "type": "quantitative"}, "x2": {"field": "x2"}, "y": {"field": "y", "type": "quantitative"}, "y2": {"field": "y2"}}}
]},
{"mark": {"type": "rule", "strokeWidth": 2.2, "stroke": "#00b050"},
 "encoding": {"x": {"datum": 2020, "type": "quantitative"}, "x2": {"datum": 2054},
  "y": {"datum": 3, "type": "quantitative", "scale": {"domain": [0, 5], "nice": false, "zero": false},
        "axis": {"orient": "right", "values": [0,0.5,1,1.5,2,2.5,3,3.5,4,4.5,5], "format": "~g", "labelFontSize": 16, "labelColor": "#404040", "ticks": false, "domain": false, "grid": false, "labelPadding": 14, "title": "Nitrate_N (mg/L)", "titleFontSize": 20, "titleFontWeight": "normal", "titleColor": "#000000", "titlePadding": 20}},
  "strokeDash": {"datum": "Limit", "type": "nominal",
   "scale": {"domain": ["Limit"], "range": [[1, 0]]},
   "legend": {"legendX": -2, "legendY": 729, "symbolType": "stroke", "symbolSize": 1089, "symbolStrokeColor": "#00b050", "symbolStrokeWidth": 2.5, "labelOffset": 2}}}}
],
"resolve": {"scale": {"y": "independent"}, "axis": {"y": "independent"}}
}
